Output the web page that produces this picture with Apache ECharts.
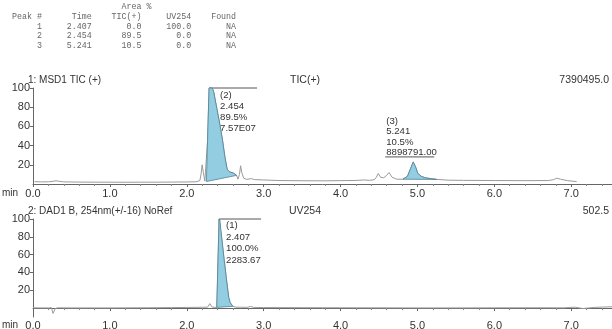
<!DOCTYPE html>
<html>
<head>
<meta charset="utf-8">
<script src="https://cdn.jsdelivr.net/npm/echarts@6/dist/echarts.min.js"></script>
<style>
  html, body { margin: 0; padding: 0; background: #fff; }
  #main { width: 612px; height: 329px; }
</style>
</head>
<body>
<div id="main"></div>
<script>
// area % table
const peakNo = ["1", "2", "3"];
const peakTime = ["2.407", "2.454", "5.241"];
const peakTic = ["0.0", "89.5", "10.5"];
const peakUv = ["100.0", "0.0", "0.0"];
const peakFound = ["NA", "NA", "NA"];

// TIC (+) trace, % of 7390495.0
const ticTime = [0.02, 0.1, 0.2, 0.26, 0.3, 0.34, 0.4, 0.6, 0.8, 1.0, 1.2, 1.4, 1.6, 1.8, 2.0, 2.12,
  2.17, 2.185, 2.20, 2.215, 2.235, 2.255, 2.27, 2.29, 2.33, 2.35, 2.39, 2.43, 2.466, 2.496, 2.526, 2.56,
  2.604, 2.648, 2.665, 2.685, 2.70, 2.715, 2.74, 2.78, 2.84, 2.88, 3.0, 3.2, 3.5, 3.8, 4.0, 4.2, 4.3, 4.38,
  4.44, 4.465, 4.49, 4.52, 4.56, 4.60, 4.63, 4.67, 4.73, 4.81, 4.87, 4.91, 4.945, 4.975, 5.005, 5.05,
  5.1, 5.18, 5.25, 5.4, 5.6, 6.0, 6.4, 6.7, 6.77, 6.81, 6.86, 6.95, 7.07];
const ticValue = [2.5, 2.2, 2.3, 2.8, 3.4, 2.8, 2.2, 2.0, 1.9, 1.9, 1.8, 1.9, 1.9, 2.0, 2.1, 2.3,
  3.5, 10, 20, 12, 3, 2.6, 45, 100, 100, 96, 79, 62, 45, 28, 15, 12.5,
  11.5, 9, 5, 10, 19, 12, 6, 4.8, 5.6, 4.6, 4.2, 3.6, 3.4, 3.3, 3.5, 3.7, 4.2, 3.8,
  4.5, 7, 11, 7, 6.5, 9, 12, 7, 5, 5, 8, 16, 23, 18, 11, 8,
  6.5, 5.5, 4.8, 4.0, 3.8, 3.6, 3.5, 3.6, 4.5, 6, 5, 3.5, 2.5];

// UV254 trace, % of 502.5
const uvTime = [0.0, 0.1, 0.2, 0.24, 0.25, 0.26, 0.27, 0.29, 0.32, 0.5, 1.0, 1.5, 1.8, 2.0, 2.2,
  2.27, 2.30, 2.33, 2.39, 2.42, 2.43, 2.455, 2.485, 2.515, 2.545, 2.565, 2.60, 2.64, 2.70, 2.78, 2.83,
  2.87, 3.0, 3.5, 4.0, 4.5, 5.0, 5.5, 6.0, 6.5, 6.9, 7.05, 7.15, 7.3, 7.53];
const uvValue = [0.3, 0.2, 0.2, 0.5, 1.5, -6, -4, -0.5, 0.3, 0.2, 0.2, 0.4, 0.6, 0.7, 0.9,
  1, 5, 1, 0.8, 100, 99, 78, 55, 33, 12, 6, 2, 1, 1, 0.8, 1.8,
  0.8, 0.6, 0.5, 0.4, 0.3, 0.2, 0.2, 0.3, 0.4, 0.3, 1, -0.5, 0.8, 1.5];

// integrated peaks: [start, end] in min
const ticPeak2 = [2.255, 2.65];
const ticPeak3 = [4.81, 5.25];
const uvPeak1 = [2.39, 2.60];

const X_MAX = 7.53;
const yTicks = [20, 40, 60, 80, 100];

const chart = echarts.init(document.getElementById("main"));
const FONT = "Liberation Sans";

function pairs(xs, ys) {
  return xs.map((x, i) => [x, ys[i]]);
}

function xAxisFor(gi, margin) {
  return {
    type: "value",
    gridIndex: gi,
    min: 0,
    max: X_MAX,
    interval: 1,
    axisLine: { lineStyle: { color: "#666", width: 1 } },
    axisTick: { length: 3, lineStyle: { color: "#666" } },
    minorTick: { show: true, splitNumber: 5, length: 2, lineStyle: { color: "#888" } },
    splitLine: { show: false },
    axisLabel: {
      color: "#333",
      fontSize: 11,
      fontFamily: FONT,
      margin: margin,
      formatter: (v) => (Math.abs(v - Math.round(v)) < 1e-6 ? v.toFixed(1) : ""),
    },
  };
}

function yAxisFor(gi, min) {
  return {
    type: "value",
    gridIndex: gi,
    min: min,
    max: 100,
    name: "%",
    nameLocation: "middle",
    nameRotate: 90,
    nameGap: 24,
    nameTextStyle: { color: "#333", fontSize: 11, fontFamily: FONT },
    axisLine: { show: true, lineStyle: { color: "#666" } },
    axisTick: { show: true, length: 3, customValues: yTicks, lineStyle: { color: "#666" } },
    splitLine: { show: false },
    axisLabel: { color: "#333", fontSize: 11, fontFamily: FONT, margin: 3, customValues: yTicks },
  };
}

// filled peak between trace and a straight baseline
function peakFill(xi, xs, ys, range) {
  const pts = [];
  xs.forEach((x, i) => {
    if (x >= range[0] && x <= range[1]) pts.push([x, ys[i]]);
  });
  return {
    type: "custom",
    xAxisIndex: xi,
    yAxisIndex: xi,
    silent: true,
    z: 3,
    data: [0],
    renderItem: (params, api) => {
      const poly = pts.map((p) => api.coord(p));
      return {
        type: "polygon",
        shape: { points: poly },
        style: { fill: "#93cde1", stroke: "#4f8296", lineWidth: 0.8 },
      };
    },
  };
}

const option = {
  animation: false,
  grid: [
    { left: 33, right: 0, top: 88, height: 96, outerBoundsMode: "none" },
    { left: 33, right: 0, top: 219, height: 98, outerBoundsMode: "none" },
  ],
  xAxis: [xAxisFor(0, 4), xAxisFor(1, 3)],
  yAxis: [yAxisFor(0, 0), yAxisFor(1, -10)],
  series: [
    {
      type: "line",
      xAxisIndex: 0,
      yAxisIndex: 0,
      data: pairs(ticTime, ticValue),
      symbol: "none",
      lineStyle: { color: "#9a9a9a", width: 1 },
      z: 2,
    },
    peakFill(0, ticTime, ticValue, ticPeak2),
    peakFill(0, ticTime, ticValue, ticPeak3),
    {
      type: "line",
      xAxisIndex: 1,
      yAxisIndex: 1,
      data: pairs(uvTime, uvValue),
      symbol: "none",
      lineStyle: { color: "#9a9a9a", width: 1 },
      z: 2,
    },
    peakFill(1, uvTime, uvValue, uvPeak1),
  ],
};
chart.setOption(option);

// texts and peak annotations
const g = [];
function txt(x, y, s, opts) {
  g.push({
    type: "text",
    x: x,
    y: y,
    silent: true,
    style: Object.assign({ text: s, fill: "#333", fontSize: 11, fontFamily: FONT, align: "left", verticalAlign: "middle" }, opts || {}),
  });
}
function hline(x1, x2, y, color) {
  g.push({ type: "line", silent: true, shape: { x1: x1, y1: y, x2: x2, y2: y }, style: { stroke: color || "#555", lineWidth: 1 } });
}

// table
const mono = { fontFamily: "Liberation Mono", fontSize: 8.3, fill: "#666" };
const pad = (s, n) => String(s).padStart(n, " ");
txt(12, 7, pad("Area %", 28), mono);
txt(12, 17, "Peak #" + pad("Time", 10) + pad("TIC(+)", 10) + pad("UV254", 10) + pad("Found", 9), mono);
peakNo.forEach((p, i) => {
  txt(12, 26.5 + i * 9.5, pad(p, 6) + pad(peakTime[i], 10) + pad(peakTic[i], 10) + pad(peakUv[i], 10) + pad(peakFound[i], 9), mono);
});

// panel titles
const ttl = { fontSize: 10 };
txt(28, 80, "1: MSD1 TIC (+)", ttl);
txt(305, 80, "TIC(+)", { align: "center", fontSize: 10.5 });
txt(609, 80, "7390495.0", { align: "right", fontSize: 10.5 });
txt(28, 211, "2: DAD1 B, 254nm(+/-16) NoRef", ttl);
txt(305, 211, "UV254", { align: "center", fontSize: 10.5 });
txt(609, 211, "502.5", { align: "right", fontSize: 10.5 });
txt(2, 193, "min", { fontSize: 10 });
txt(2, 325, "min", { fontSize: 10 });

const lab = { fontSize: 9.6 };

// peak (2) on TIC
let p = chart.convertToPixel({ xAxisIndex: 0, yAxisIndex: 0 }, [2.29, 100]);
hline(p[0], p[0] + 48, p[1]);
["(2)", peakTime[1], peakTic[1] + "%", "7.57E07"].forEach((s, i) => txt(p[0] + 11, p[1] + 7.5 + i * 11, s, lab));

// peak (3) on TIC
p = chart.convertToPixel({ xAxisIndex: 0, yAxisIndex: 0 }, [4.945, 23]);
hline(p[0] - 28, p[0] + 21, p[1] - 5);
["(3)", peakTime[2], peakTic[2] + "%", "8898791.00"].forEach((s, i) => txt(p[0] - 27, p[1] - 41 + i * 10.5, s, lab));

// peak (1) on UV
p = chart.convertToPixel({ xAxisIndex: 1, yAxisIndex: 1 }, [2.42, 100]);
hline(p[0], p[0] + 42, p[1]);
["(1)", peakTime[0], peakUv[0] + "%", "2283.67"].forEach((s, i) => txt(p[0] + 7, p[1] + 6.5 + i * 11.5, s, lab));

chart.setOption({ graphic: g });
window.addEventListener("resize", () => chart.resize());
</script>
</body>
</html>
